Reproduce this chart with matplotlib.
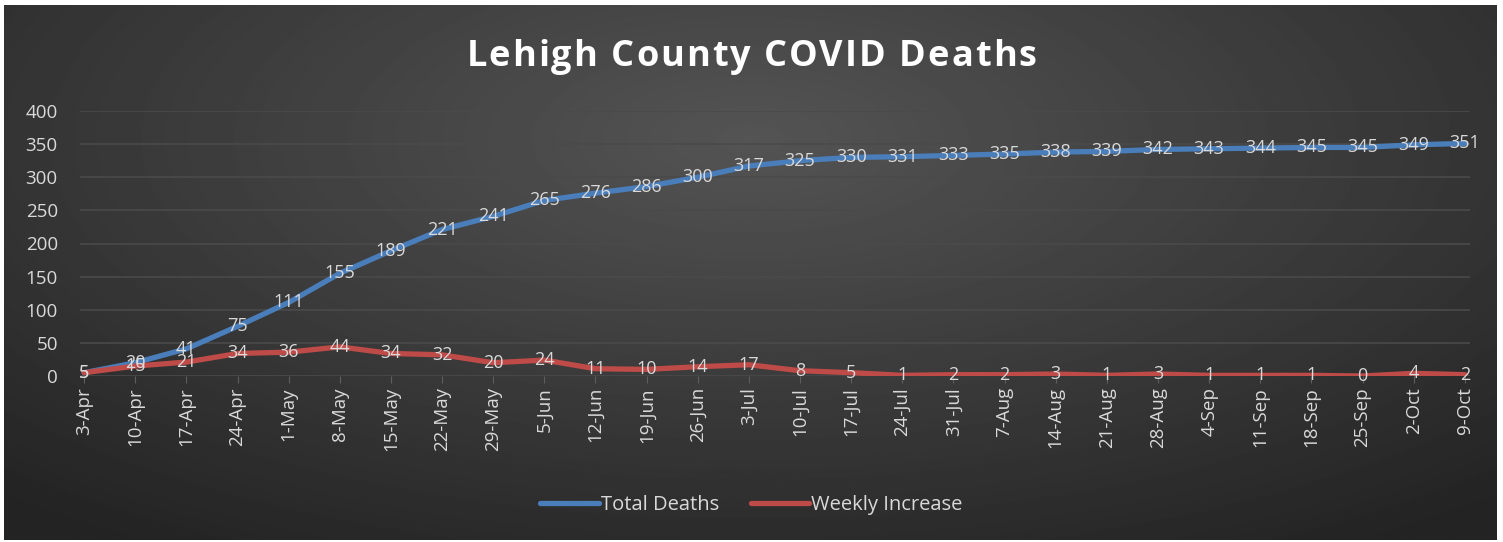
import numpy as np
import matplotlib.pyplot as plt

dates = ['3-Apr', '10-Apr', '17-Apr', '24-Apr', '1-May', '8-May', '15-May', '22-May',
         '29-May', '5-Jun', '12-Jun', '19-Jun', '26-Jun', '3-Jul', '10-Jul', '17-Jul',
         '24-Jul', '31-Jul', '7-Aug', '14-Aug', '21-Aug', '28-Aug', '4-Sep', '11-Sep',
         '18-Sep', '25-Sep', '2-Oct', '9-Oct']
total_deaths = [5, 20, 41, 75, 111, 155, 189, 221, 241, 265, 276, 286, 300, 317, 325,
                330, 331, 333, 335, 338, 339, 342, 343, 344, 345, 345, 349, 351]
weekly_increase = [5, 15, 21, 34, 36, 44, 34, 32, 20, 24, 11, 10, 14, 17, 8, 5,
                   1, 2, 2, 3, 1, 3, 1, 1, 1, 0, 4, 2]
title = 'Lehigh County COVID Deaths'

BLUE = '#4a7ebb'
RED = '#be4b48'
TXT = '#d9d9d9'
FONT = 'Open Sans'

W, H = 1503, 542
fig = plt.figure(figsize=(W / 100, H / 100), dpi=100)
fig.patch.set_facecolor('white')

# dark radial background panel
bg = fig.add_axes([4 / W, 2 / H, 1493 / W, 535 / H])
yy, xx = np.mgrid[0:1:300j, 0:1:800j]
r = np.sqrt(((xx - 0.5) / 0.75) ** 2 + ((yy - 0.75) / 0.9) ** 2)
shade = 0.33 - 0.19 * np.clip(r, 0, 1)
bg.imshow(shade, cmap='gray', vmin=0, vmax=1, aspect='auto', origin='lower',
          extent=[0, 1, 0, 1])
bg.set_axis_off()

x = np.arange(len(dates))
ax = fig.add_axes([80 / W, (H - 376) / H, 1390 / W, 265 / H])
ax.patch.set_alpha(0)
ax.set_xlim(-0.08, len(dates) - 1 + 0.1)
ax.set_ylim(0, 400)
ax.set_yticks(range(0, 401, 50))
ax.grid(axis='y', color='#4a4a4a', lw=1.2)
ax.set_axisbelow(True)
for s in ax.spines.values():
    s.set_visible(False)

ax.plot(x, total_deaths, color=BLUE, lw=3.8, solid_capstyle='round', label='Total Deaths')
ax.plot(x, weekly_increase, color=RED, lw=3.8, solid_capstyle='round', label='Weekly Increase')

for xi, v in zip(x, total_deaths):
    ax.text(xi, v, str(v), ha='center', va='center', color=TXT, fontsize=13, family=FONT)
for xi, v in zip(x, weekly_increase):
    ax.text(xi, v, str(v), ha='center', va='center', color=TXT, fontsize=13, family=FONT)

ax.set_xticks(x)
ax.set_xticklabels(dates, rotation=90, color=TXT, fontsize=13.5, family=FONT)
ax.tick_params(axis='x', length=5, color='#5e5e5e', pad=3)
ax.tick_params(axis='y', length=0, pad=16, labelcolor=TXT, labelsize=13.5)
for lab in ax.get_yticklabels():
    lab.set_family(FONT)

# title with extra letter spacing, drawn one character at a time
renderer = fig.canvas.get_renderer()
spacing = 2.0
chars = []
for ch in title:
    t = fig.text(0, 0.895, ch, ha='left', va='center', color='white', fontsize=26,
                 fontweight='bold', family=FONT)
    chars.append((t, t.get_window_extent(renderer).width))
total_w = sum(w for _, w in chars) + spacing * (len(chars) - 1)
xpos = W / 2 - total_w / 2
for t, w in chars:
    t.set_x(xpos / W)
    xpos += w + spacing

leg = fig.legend(loc='center', bbox_to_anchor=(0.5, 0.068), ncol=2, frameon=False,
                 prop={'family': FONT, 'size': 14.5}, handlelength=2.9,
                 handletextpad=0.1, columnspacing=1.6)
for t in leg.get_texts():
    t.set_color(TXT)

fig.savefig('out.png', dpi=100, facecolor=fig.get_facecolor())
